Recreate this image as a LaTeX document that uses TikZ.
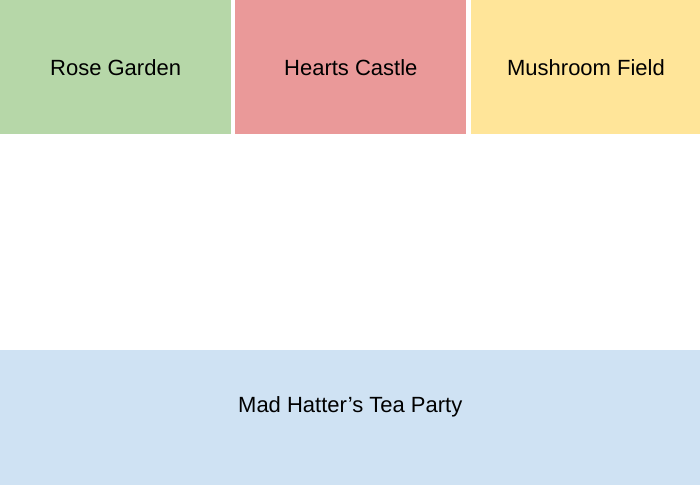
\documentclass[tikz,border=0pt]{standalone}
\usepackage{fontspec}
\setmainfont{Liberation Sans}
\definecolor{rosegreen}{HTML}{B6D7A8}
\definecolor{heartsred}{HTML}{EA9999}
\definecolor{mushyellow}{HTML}{FFE599}
\definecolor{teablue}{HTML}{CFE2F3}
\usetikzlibrary{positioning}

\begin{document}
\begin{tikzpicture}[
                x=0.75pt, y=0.75pt,
                node distance=3pt,
                zone/.style={
                    rectangle,
                    draw=none,
                    inner sep=0pt,
                    text centered,
                    minimum width=173pt,
                    minimum height=100.5pt,
                    font=\fontsize{16.5}{20}\selectfont,
                    align=center
                }
            ]

            \useasboundingbox (0,0) rectangle (700,-485);

            % Top Row
            \node (rose) [zone, fill=rosegreen, anchor=north west] at (0,0)
            {Rose Garden};

            \node (hearts) [zone, fill=heartsred, right=of rose]
            {Hearts Castle};

            \node (mushroom) [zone, fill=mushyellow, right=of hearts]
            {Mushroom Field};

            % Bottom Row
            \node (teaparty) [zone, fill=teablue, minimum width=525pt,
            minimum height=101.25pt, text height=12pt, text depth=19.7pt,
            anchor=south west] at (0,-485)
            {Mad Hatter’s Tea Party};

            \end{tikzpicture}
\end{document}
